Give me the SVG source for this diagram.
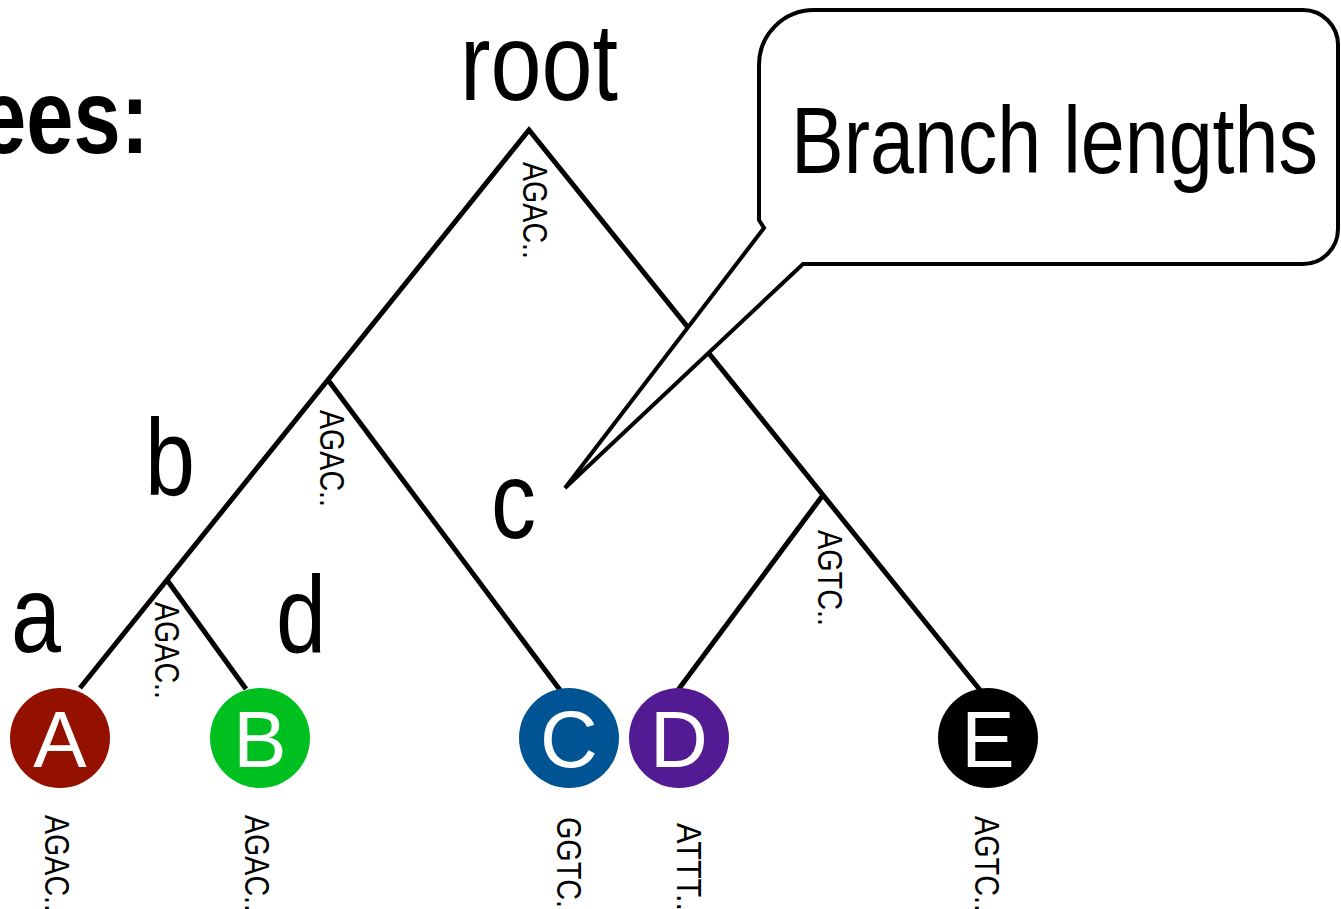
<svg xmlns="http://www.w3.org/2000/svg" width="1341" height="909" viewBox="0 0 1341 909">
  <style>
    .narrow { font-family: "Liberation Sans Narrow", "Arial Narrow", "Liberation Sans", Arial, sans-serif; fill: #000; }
    .big { font-size: 110px; }
    .seq { font-size: 35px; }
    .leaf { font-family: "Liberation Sans", Arial, sans-serif; font-size: 80px; fill: #fff; text-anchor: middle; }
    .branch { fill: none; stroke: #000; stroke-width: 5; stroke-linejoin: miter; }
    .callout { fill: #fff; stroke: #000; stroke-width: 4; stroke-linejoin: miter; }
  </style>

  <!-- heading fragment -->
  <text class="narrow" x="-21" y="153" font-size="105" font-weight="bold" textLength="170" lengthAdjust="spacingAndGlyphs">ees:</text>

  <!-- tree branches -->
  <g id="connectors">
    <path class="branch" d="M80,688 L529,130 L980,690"/>
    <path class="branch" d="M328,380 L560,690"/>
    <path class="branch" d="M167,580 L246,689"/>
    <path class="branch" d="M823,495 L678,690"/>
  </g>

  <!-- internal node labels -->
  <g id="node-root">
    <text class="narrow big" x="460" y="100" textLength="158" lengthAdjust="spacingAndGlyphs">root</text>
    <text class="narrow seq" transform="translate(523,162) rotate(90)" textLength="97" lengthAdjust="spacingAndGlyphs">AGAC..</text>
  </g>
  <g id="node-b">
    <text class="narrow big" x="145" y="495" textLength="50" lengthAdjust="spacingAndGlyphs">b</text>
    <text class="narrow seq" transform="translate(320,410) rotate(90)" textLength="97" lengthAdjust="spacingAndGlyphs">AGAC..</text>
  </g>
  <g id="node-a">
    <text class="narrow big" x="11" y="652" textLength="50" lengthAdjust="spacingAndGlyphs">a</text>
    <text class="narrow seq" transform="translate(155,602) rotate(90)" textLength="97" lengthAdjust="spacingAndGlyphs">AGAC..</text>
  </g>
  <g id="node-d">
    <text class="narrow big" x="276" y="652" textLength="50" lengthAdjust="spacingAndGlyphs">d</text>
  </g>
  <g id="node-c">
    <text class="narrow big" x="491" y="538" textLength="45" lengthAdjust="spacingAndGlyphs">c</text>
  </g>
  <g id="node-de">
    <text class="narrow seq" transform="translate(818,530) rotate(90)" textLength="96" lengthAdjust="spacingAndGlyphs">AGTC..</text>
  </g>

  <!-- leaves -->
  <g id="leaf-A">
    <circle cx="60" cy="738" r="50" fill="#941100"/>
    <text class="leaf" x="60" y="767">A</text>
    <text class="narrow seq" transform="translate(45,815) rotate(90)" textLength="97" lengthAdjust="spacingAndGlyphs">AGAC..</text>
  </g>
  <g id="leaf-B">
    <circle cx="260" cy="738" r="50" fill="#00C020"/>
    <text class="leaf" x="260" y="767">B</text>
    <text class="narrow seq" transform="translate(245,815) rotate(90)" textLength="97" lengthAdjust="spacingAndGlyphs">AGAC..</text>
  </g>
  <g id="leaf-C">
    <circle cx="569" cy="738" r="50" fill="#005493"/>
    <text class="leaf" x="569" y="767">C</text>
    <text class="narrow seq" transform="translate(557,817) rotate(90)" textLength="99" lengthAdjust="spacingAndGlyphs">GGTC..</text>
  </g>
  <g id="leaf-D">
    <circle cx="679" cy="738" r="50" fill="#531B93"/>
    <text class="leaf" x="679" y="767">D</text>
    <text class="narrow seq" transform="translate(677,823) rotate(90)" textLength="88" lengthAdjust="spacingAndGlyphs">ATTT..</text>
  </g>
  <g id="leaf-E">
    <circle cx="988" cy="738" r="50" fill="#000"/>
    <text class="leaf" x="988" y="767">E</text>
    <text class="narrow seq" transform="translate(975,816) rotate(90)" textLength="96" lengthAdjust="spacingAndGlyphs">AGTC..</text>
  </g>

  <!-- speech bubble pointing at c -->
  <g id="callout">
    <path class="callout" d="M814,10 H1303 A35,35 0 0 1 1338,45 V229 A35,35 0 0 1 1303,264 H803 L565,488 L764,228 L759,220 V65 A55,55 0 0 1 814,10 Z"/>
    <text class="narrow" x="791" y="173" font-size="95" textLength="527" lengthAdjust="spacingAndGlyphs">Branch lengths</text>
  </g>
</svg>
